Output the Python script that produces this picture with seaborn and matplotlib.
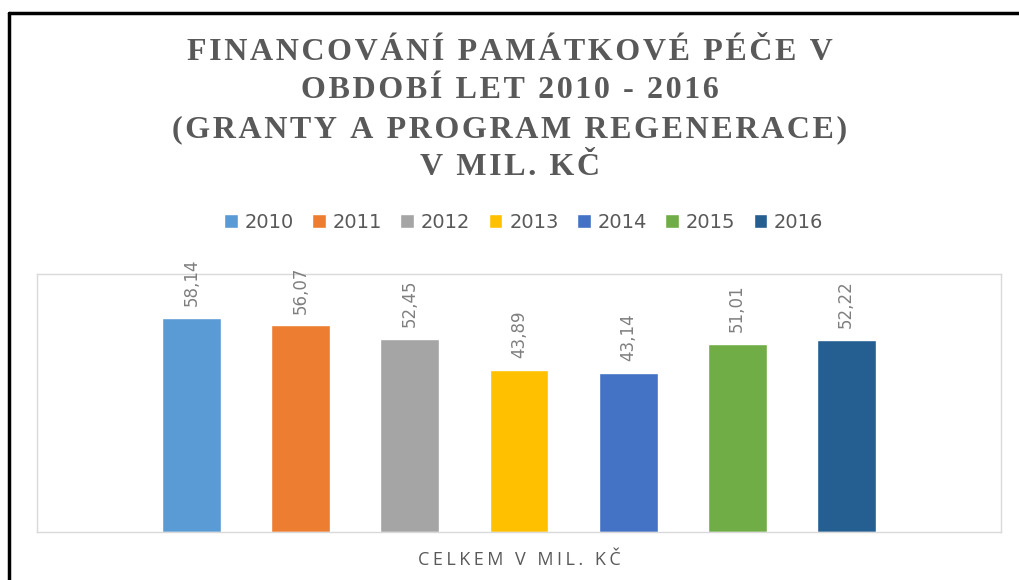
import pandas as pd
import matplotlib.pyplot as plt
import seaborn as sns
from matplotlib.lines import Line2D

# Data
years = ['2010', '2011', '2012', '2013', '2014', '2015', '2016']
values = [58.14, 56.07, 52.45, 43.89, 43.14, 51.01, 52.22]
category = 'CELKEM V MIL. KČ'
colors = ['#5B9BD5', '#ED7D31', '#A5A5A5', '#FFC000', '#4472C4', '#70AD47', '#255E91']

df = pd.DataFrame({'cat': [category] * len(years), 'year': years, 'value': values})

sns.set_style('white')
plt.rcParams['font.family'] = ['DejaVu Sans']

HS = '\u200a'  # hair space, used for letter spacing


def spaced(s, n=1):
    return (HS * n).join(s)


fig = plt.figure(figsize=(10.19, 5.8), dpi=100)
ax = fig.add_axes([0.0363, 0.0828, 0.946, 0.4448])

sns.barplot(data=df, x='cat', y='value', hue='year', palette=colors, saturation=1,
            width=0.8, gap=0.46, dodge=True, ax=ax, legend=True)

ax.set_ylim(0, 70)
ax.set_xlim(-0.505, 0.505)
ax.set_yticks([])
ax.set_ylabel('')
ax.set_xlabel('')
ax.set_xticks([0])
ax.set_xticklabels([spaced(category, 2)], color='#595959', fontsize=13,
                   family=['Open Sans', 'DejaVu Sans'])
ax.tick_params(axis='x', length=0, pad=14)
for s in ax.spines.values():
    s.set_color('#D9D9D9')
    s.set_linewidth(1)

# value labels, rotated
for cont in ax.containers:
    for bar in cont:
        h = bar.get_height()
        ax.text(bar.get_x() + bar.get_width() / 2, h + 3.2,
                f'{h:.2f}'.replace('.', ','), rotation=90, ha='center', va='bottom',
                color='#7F7F7F', fontsize=12)

# legend
handles, labels = ax.get_legend_handles_labels()
ax.legend_.remove()
fig.legend(handles, labels, loc='center', bbox_to_anchor=(0.514, 0.617), ncol=7,
           frameon=False, handlelength=0.7, handleheight=0.7, handletextpad=0.35,
           columnspacing=0.95, fontsize=14, labelcolor='#595959')

# title
title_lines = ['FINANCOVÁNÍ PAMÁTKOVÉ PÉČE V', 'OBDOBÍ LET 2010 - 2016',
               '(GRANTY A PROGRAM REGENERACE)', 'V MIL. KČ']
title = '\n'.join(spaced(t) for t in title_lines)
fig.text(0.5, 0.81, title, ha='center', va='center',
         family=['Liberation Serif', 'DejaVu Serif'],
         fontweight='bold', fontsize=23, color='#595959', linespacing=1.43)

# outer frame (black, top and left only)
fig.add_artist(Line2D([0.0085, 0.0085], [0, 0.978], color='black', lw=2.5,
                      transform=fig.transFigure))
fig.add_artist(Line2D([0.0085, 1.0], [0.978, 0.978], color='black', lw=2.5,
                      transform=fig.transFigure))

fig.savefig('out.png', dpi=100)
